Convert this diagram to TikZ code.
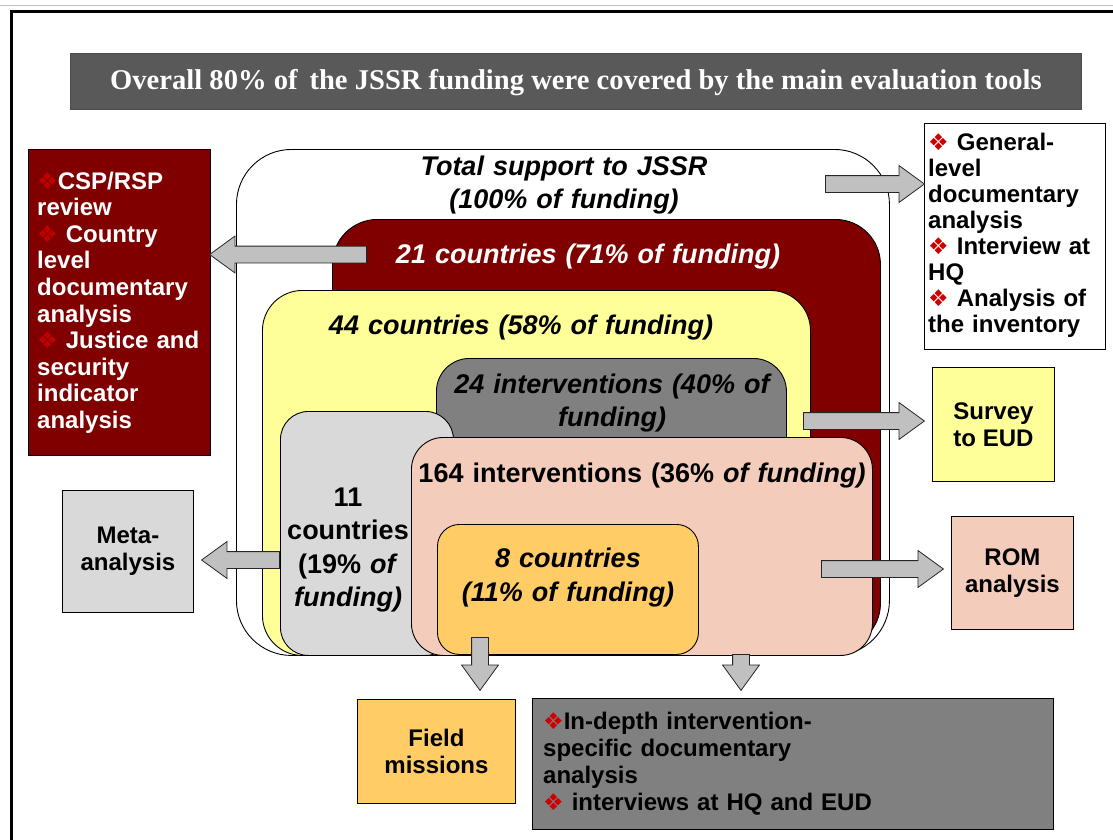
\documentclass[tikz,border=0pt]{standalone}
\usepackage{fontspec}
\setmainfont{Liberation Sans}
\newfontfamily\titlefont{Liberation Serif}
\newfontfamily\djv{DejaVu Sans}
\usetikzlibrary{shapes.arrows}
\definecolor{dred}{HTML}{800000}
\definecolor{titlegray}{HTML}{595959}
\definecolor{lyellow}{HTML}{FFFF99}
\definecolor{midgray}{HTML}{808080}
\definecolor{lgray}{HTML}{D9D9D9}
\definecolor{peach}{HTML}{F4CCBB}
\definecolor{lorange}{HTML}{FFCC66}
\definecolor{arrowgray}{HTML}{C0C0C0}
\definecolor{bulred}{HTML}{CC0000}
\definecolor{bulredd}{HTML}{C00000}
\newcommand\bul{{\djv\fontsize{23}{23}\selectfont\color{bulred}\char"2756}}
\newcommand\buld{{\djv\fontsize{23}{23}\selectfont\color{bulredd}\char"2756}}
\begin{document}
\begin{tikzpicture}[x=1pt,y=-1pt,
  box/.style={draw=black, line width=0.9pt, inner sep=0pt, anchor=north west},
  intext/.style={font=\fontsize{27}{33}\selectfont\bfseries\itshape, text width=470pt, align=center, anchor=base, inner sep=0pt},
  outtext/.style={font=\fontsize{24}{26.6}\selectfont\bfseries, align=center, inner sep=0pt},
  listtext/.style={font=\fontsize{24}{26.6}\selectfont\bfseries, align=left, anchor=base west, inner sep=0pt},
  barrow/.style={single arrow, draw=black!85, fill=arrowgray, line width=0.8pt,
    inner sep=8pt, minimum width=0pt, single arrow head extend=10pt,
    single arrow tip angle=72, anchor=tail}
]
\useasboundingbox (0,0) rectangle (1113,840);
% frame
\draw[black!25, line width=1pt] (0,6) -- (1113,6);
\draw[line width=3pt] (11.5,840) -- (11.5,11.5) -- (1113,11.5);
% title
\node[box, fill=titlegray, draw=black!70, minimum width=1011pt, minimum height=56pt] (title) at (70,53) {};
\node[font=\titlefont\fontsize{28.6}{30}\selectfont\bfseries, text=white, inner sep=0pt, anchor=base] (titletext) at (576,90) {Overall 80\% of\, the JSSR funding were covered by the main evaluation tools};
% nested boxes
\node[box, fill=white, rounded corners=55pt, minimum width=653pt, minimum height=506pt] (tot) at (236,149) {};
\node[box, fill=dred, rounded corners=45pt, minimum width=548pt, minimum height=429pt] (c21) at (332,219) {};
\node[box, fill=lyellow, rounded corners=40pt, minimum width=548pt, minimum height=365pt] (c44) at (262,290) {};
\node[box, fill=midgray, rounded corners=33pt, minimum width=350pt, minimum height=150pt] (i24) at (436,358) {};
\node[box, fill=lgray, rounded corners=28pt, minimum width=173pt, minimum height=244pt] (c11) at (280,411) {};
\node[box, fill=peach, rounded corners=32pt, minimum width=461pt, minimum height=218pt] (i164) at (411,437) {};
\node[box, fill=lorange, rounded corners=22pt, minimum width=261pt, minimum height=130pt] (c8) at (437,524) {};
% texts of nested boxes
\node[intext] (ttot) at (564,175) {Total support to JSSR\\(100\% of funding)};
\node[intext, text=white] (t21) at (588,263) {21 countries (71\% of funding)};
\node[intext] (t44) at (521,334) {44 countries (58\% of funding)};
\node[intext] (t24) at (612,393) {24 interventions (40\% of\\funding)};
\node[intext, font=\fontsize{27}{33.5}\selectfont\bfseries, text width=170pt] (t11) at (348,506) {11\\countries\\(19\% \textit{of}\\\textit{funding)}};
\node[intext, font=\fontsize{27}{33}\selectfont\bfseries] (t164) at (642,482) {164 interventions (36\% \textit{of funding)}};
\node[intext, font=\fontsize{27}{34}\selectfont\bfseries\itshape] (t8) at (568,567) {8 countries\\(11\% of funding)};
% outer tool boxes
\node[box, fill=dred, minimum width=182pt, minimum height=306pt] (csp) at (28,149) {};
\node[listtext, text=white, text width=172pt] (tcsp) at (37,189) {\buld CSP/RSP\\review\\\buld{} Country\\level\\documentary\\analysis\\\buld{} Justice and\\security\\indicator\\analysis};
\node[box, fill=white, minimum width=181pt, minimum height=226pt] (gen) at (924,123) {};
\node[listtext, font=\fontsize{24}{26}\selectfont\bfseries, text width=176pt] (tgen) at (928,150) {\bul{} General-\\level\\documentary\\analysis\\\bul{} Interview at\\HQ\\\bul{} Analysis of\\the inventory};
\node[box, fill=lyellow, minimum width=122pt, minimum height=114pt] (sur) at (932,367) {};
\node[outtext] (tsur) at (sur.center) {Survey\\to EUD};
\node[box, fill=peach, minimum width=122pt, minimum height=113pt] (rom) at (951,516) {};
\node[outtext] (trom) at (rom.center) {ROM\\analysis};
\node[box, fill=lgray, minimum width=131pt, minimum height=122pt] (meta) at (62,490) {};
\node[outtext] (tmeta) at (meta.center) {Meta-\\analysis};
\node[box, fill=lorange, minimum width=158pt, minimum height=104pt] (field) at (357,699) {};
\node[outtext] (tfield) at (field.center) {Field\\missions};
\node[box, fill=midgray, minimum width=521pt, minimum height=131pt] (dep) at (532,698) {};
\node[listtext, font=\fontsize{24}{27}\selectfont\bfseries, text width=505pt] (tdep) at (543,729) {\bul In-depth intervention-\\specific documentary\\analysis\\\bul{} interviews at HQ and EUD};
% block arrows
\coordinate (sGen) at (825,184);
\coordinate (sCsp) at (367,254.5);
\coordinate (sSur) at (803,421);
\coordinate (sMeta) at (280,560);
\coordinate (sRom) at (821,569);
\coordinate (sField) at (480,637);
\coordinate (sDep) at (741,654);
\node[barrow, minimum height=99pt] (aGen) at (sGen) {};
\node[barrow, minimum height=157pt, shape border rotate=180] (aCsp) at (sCsp) {};
\node[barrow, minimum height=121pt] (aSur) at (sSur) {};
\node[barrow, minimum height=78pt, shape border rotate=180] (aMeta) at (sMeta) {};
\node[barrow, minimum height=122pt] (aRom) at (sRom) {};
\node[barrow, minimum height=53pt, shape border rotate=270] (aField) at (sField) {};
\node[barrow, minimum height=36pt, shape border rotate=270] (aDep) at (sDep) {};
\end{tikzpicture}
\end{document}
